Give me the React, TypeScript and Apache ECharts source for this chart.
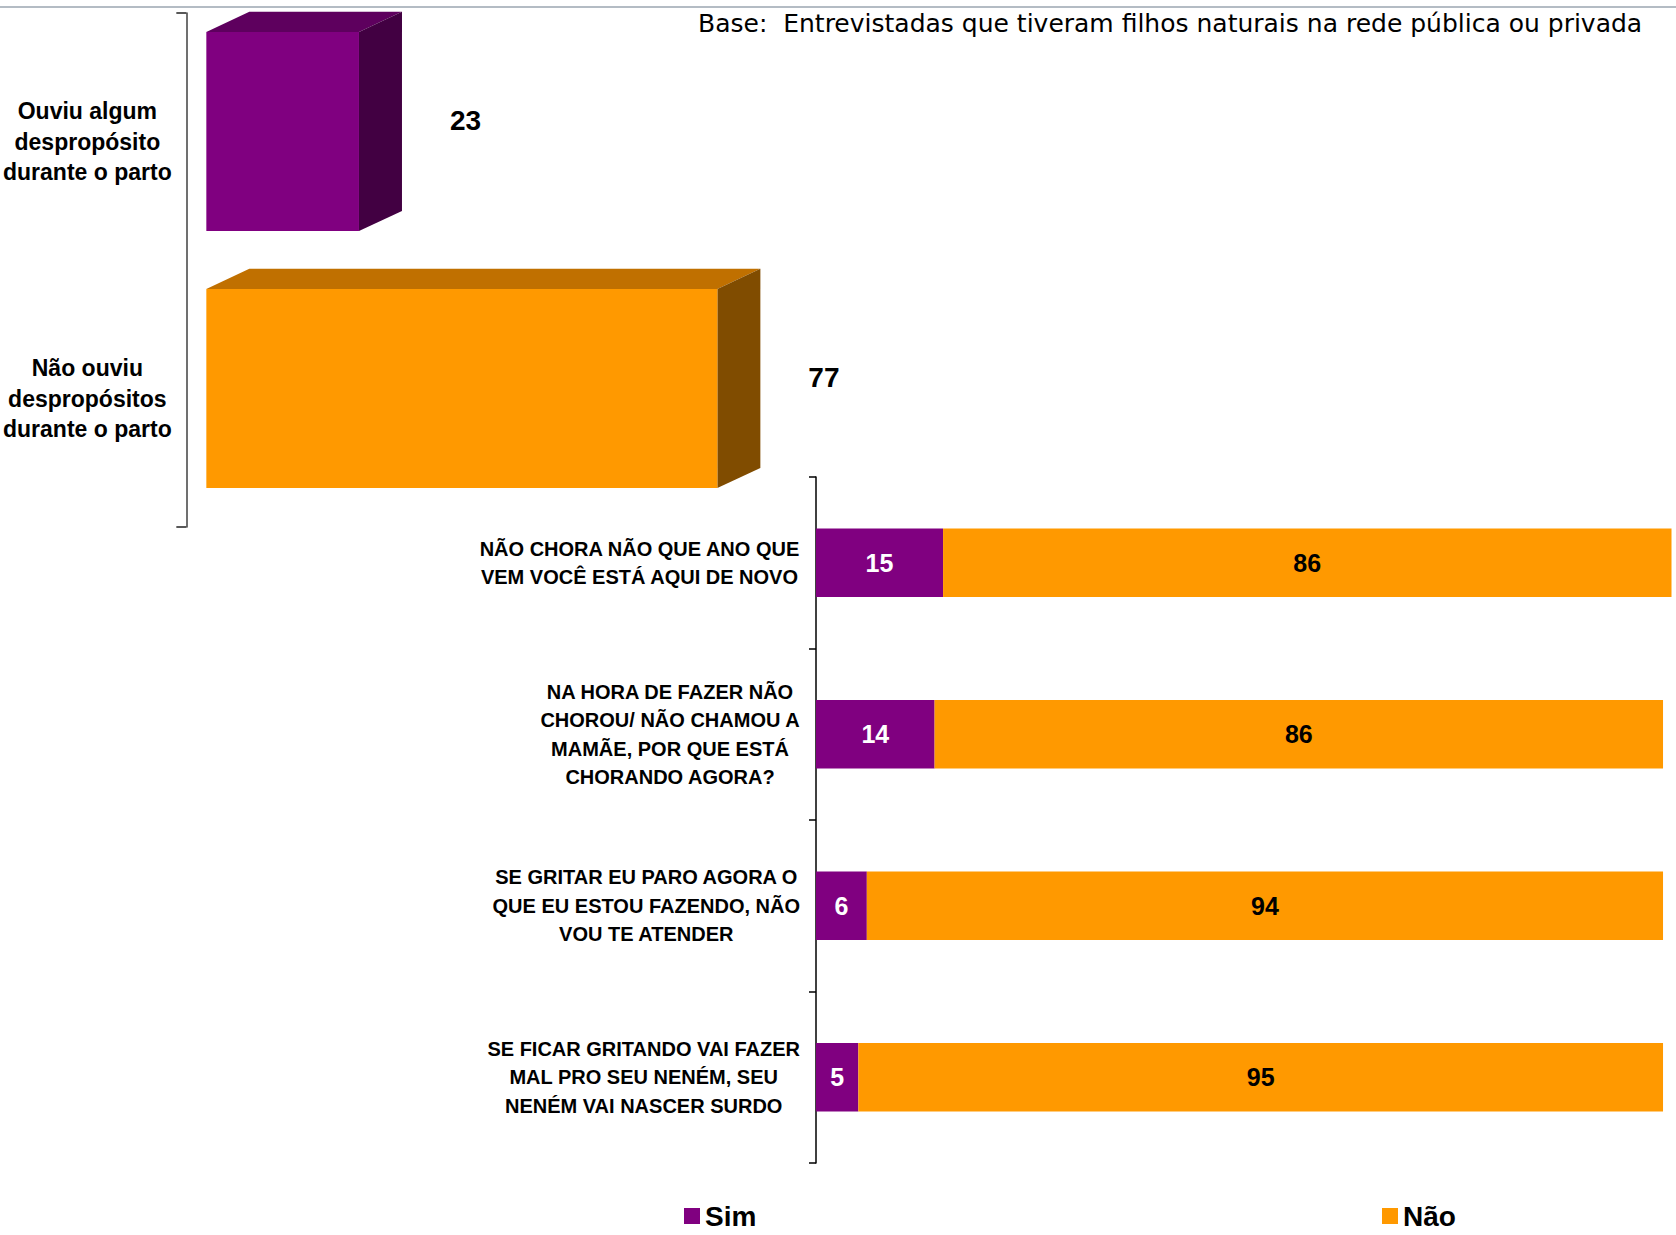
import React, { useEffect, useRef } from "react";
import * as echarts from "echarts";

const titleText = "Base:  Entrevistadas que tiveram filhos naturais na rede pública ou privada";

const topCategories = [
  "Ouviu algum\ndespropósito\ndurante o parto",
  "Não ouviu\ndespropósitos\ndurante o parto",
];
const topValues = [23, 77];

const bottomCategories = [
  "NÃO CHORA NÃO QUE ANO QUE\nVEM VOCÊ ESTÁ AQUI DE NOVO",
  "NA HORA DE FAZER NÃO\nCHOROU/ NÃO CHAMOU A\nMAMÃE, POR QUE ESTÁ\nCHORANDO AGORA?",
  "SE GRITAR EU PARO AGORA O\nQUE EU ESTOU FAZENDO, NÃO\nVOU TE ATENDER",
  "SE FICAR GRITANDO VAI FAZER\nMAL PRO SEU NENÉM, SEU\nNENÉM VAI NASCER SURDO",
];
const simValues = [15, 14, 6, 5];
const naoValues = [86, 86, 94, 95];

const PURPLE = "#800080";
const ORANGE = "#FF9900";
const boxColors = [
  { front: PURPLE, top: "#5E005E", side: "#420042" },
  { front: ORANGE, top: "#C07000", side: "#804C00" },
];

export default function App() {
  const ref = useRef<HTMLDivElement>(null);

  useEffect(() => {
    document.body.style.margin = "0";
    const chart = echarts.init(ref.current!, null, { renderer: "svg" });
    const font = "Liberation Sans, Arial, sans-serif";
    const legendText = {
      fontFamily: font,
      fontSize: 28,
      fontWeight: "bold",
      color: "#000",
      lineHeight: 28,
    };

    const option: any = {
      animation: false,
      backgroundColor: "#ffffff",
      title: {
        text: titleText,
        left: 698,
        top: 11,
        padding: 0,
        textStyle: {
          fontFamily: "DejaVu Sans, Verdana, sans-serif",
          fontSize: 25,
          fontWeight: "normal",
          color: "#000",
        },
      },
      graphic: [
        {
          type: "line",
          shape: { x1: 0, y1: 7, x2: 1676, y2: 7 },
          style: { stroke: "#B4BCC4", lineWidth: 2 },
          silent: true,
        },
      ],
      legend: [
        {
          data: ["Sim"],
          left: 684,
          top: 1202,
          padding: 0,
          itemWidth: 16,
          itemHeight: 16,
          icon: "rect",
          textStyle: legendText,
        },
        {
          data: ["Não"],
          left: 1382,
          top: 1202,
          padding: 0,
          itemWidth: 16,
          itemHeight: 16,
          icon: "rect",
          textStyle: legendText,
        },
      ],
      grid: [
        { left: 816, top: 477, width: 855.5, height: 686, containLabel: false },
        { left: 204, top: 13, width: 666, height: 514, containLabel: false },
      ],
      xAxis: [
        { type: "value", gridIndex: 0, min: 0, max: 101, show: false },
        { type: "value", gridIndex: 1, min: 0, max: 100, show: false },
      ],
      yAxis: [
        {
          type: "category",
          gridIndex: 0,
          inverse: true,
          data: bottomCategories,
          axisLine: { show: true, onZero: false, lineStyle: { color: "#000", width: 1.5 } },
          axisTick: { show: true, length: 7, lineStyle: { color: "#000", width: 1.5 } },
          splitLine: { show: false },
          axisLabel: {
            interval: 0,
            margin: 16,
            align: "right",
            formatter: (v: string) =>
              v
                .split("\n")
                .map((l) => "{c|" + l + "}")
                .join("\n"),
            rich: {
              c: {
                align: "center",
                fontFamily: font,
                fontSize: 20,
                fontWeight: "bold",
                color: "#000",
                lineHeight: 28.5,
              },
            },
          },
        },
        {
          type: "category",
          gridIndex: 1,
          inverse: true,
          offset: 20,
          data: topCategories,
          axisLine: { show: true, onZero: false, lineStyle: { color: "#404040", width: 1.5 } },
          axisTick: {
            show: true,
            length: 10,
            interval: (index: number) => index === 0,
            lineStyle: { color: "#202020", width: 1.5 },
          },
          splitLine: { show: false },
          axisLabel: {
            interval: 0,
            margin: 99,
            align: "center",
            fontFamily: font,
            fontSize: 23,
            fontWeight: "bold",
            color: "#000",
            lineHeight: 30.5,
          },
        },
      ],
      series: [
        {
          name: "Sim",
          type: "bar",
          stack: "total",
          xAxisIndex: 0,
          yAxisIndex: 0,
          barCategoryGap: "60%",
          itemStyle: { color: PURPLE },
          label: {
            show: true,
            position: "inside",
            color: "#fff",
            fontFamily: font,
            fontSize: 25,
            fontWeight: "bold",
          },
          data: simValues,
        },
        {
          name: "Não",
          type: "bar",
          stack: "total",
          xAxisIndex: 0,
          yAxisIndex: 0,
          barCategoryGap: "60%",
          itemStyle: { color: ORANGE },
          label: {
            show: true,
            position: "inside",
            color: "#000",
            fontFamily: font,
            fontSize: 25,
            fontWeight: "bold",
          },
          data: naoValues,
        },
        {
          name: "box3d",
          type: "custom",
          xAxisIndex: 1,
          yAxisIndex: 1,
          encode: { x: 0, y: 1 },
          data: topValues.map((v, i) => [v, i]),
          renderItem: (params: any, api: any) => {
            const idx = api.value(1);
            const val = api.value(0);
            const start = api.coord([0, idx]);
            const end = api.coord([val, idx]);
            const band = Math.abs(api.size([0, 1])[1]);
            const h = band * 0.775;
            const dy = band * 0.078;
            const dx = 43;
            const yTop = start[1] - dy / 2 - h / 2;
            const yBot = yTop + h;
            const c = boxColors[idx];
            return {
              type: "group",
              children: [
                {
                  type: "polygon",
                  shape: {
                    points: [
                      [start[0], yTop],
                      [start[0] + dx, yTop - dy],
                      [end[0] + dx, yTop - dy],
                      [end[0], yTop],
                    ],
                  },
                  style: { fill: c.top },
                },
                {
                  type: "polygon",
                  shape: {
                    points: [
                      [end[0], yTop],
                      [end[0] + dx, yTop - dy],
                      [end[0] + dx, yBot - dy],
                      [end[0], yBot],
                    ],
                  },
                  style: { fill: c.side },
                },
                {
                  type: "rect",
                  shape: { x: start[0], y: yTop, width: end[0] - start[0], height: h },
                  style: { fill: c.front },
                },
                {
                  type: "text",
                  x: end[0] + dx + 48,
                  y: start[1] - 21,
                  style: {
                    text: String(val),
                    fontFamily: font,
                    fontSize: 28,
                    fontWeight: "bold",
                    fill: "#000",
                    align: "left",
                    verticalAlign: "middle",
                  },
                },
              ],
            };
          },
        },
      ],
    };

    chart.setOption(option);
    return () => chart.dispose();
  }, []);

  return (
    <div
      ref={ref}
      style={{ position: "absolute", left: 0, top: 0, width: 1676, height: 1235 }}
    />
  );
}
